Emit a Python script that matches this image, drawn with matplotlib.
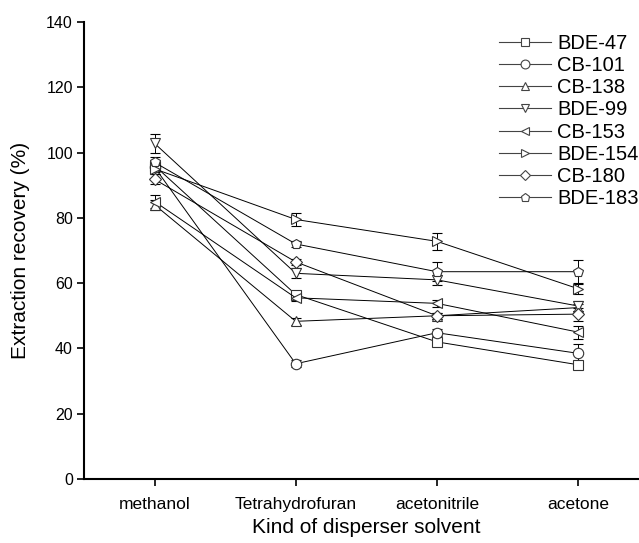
import matplotlib
matplotlib.use("Agg")
import matplotlib.pyplot as plt
from matplotlib.lines import Line2D

plt.rcParams['font.family'] = ['Liberation Sans', 'DejaVu Sans']

categories = ["methanol", "Tetrahydrofuran", "acetonitrile", "acetone"]
series_names = ["BDE-47", "CB-101", "CB-138", "BDE-99", "CB-153", "BDE-154", "CB-180", "BDE-183"]
markers = ["s", "o", "^", "v", "<", ">", "D", "p"]

bde47 = [96.0, 56.5, 42.0, 35.0]
cb101 = [95.5, 35.3, 44.8, 38.5]
cb138 = [84.0, 48.3, 50.0, 52.5]
bde99 = [102.8, 63.0, 61.0, 53.0]
cb153 = [85.0, 55.5, 53.8, 45.0]
bde154 = [95.0, 79.5, 72.8, 58.3]
cb180 = [91.8, 66.5, 50.0, 50.5]
bde183 = [97.0, 72.0, 63.5, 63.5]

err47 = [1.5, 1.0, 1.0, 1.0]
err101 = [1.5, 1.0, 1.0, 3.0]
err138 = [1.5, 1.0, 1.0, 1.0]
err99 = [3.0, 1.5, 1.5, 1.5]
err153 = [2.0, 1.0, 1.0, 2.0]
err154 = [1.5, 2.0, 2.5, 1.5]
err180 = [1.5, 1.0, 1.0, 2.0]
err183 = [1.5, 1.0, 3.0, 3.5]

values = [bde47, cb101, cb138, bde99, cb153, bde154, cb180, bde183]
errors = [err47, err101, err138, err99, err153, err154, err180, err183]

fig = plt.figure(figsize=(6.39, 5.43), dpi=100)
ax = fig.add_axes([0.1315, 0.1179, 0.8835, 0.8416])

x = list(range(1, len(categories) + 1))
handles = []
for name, m, v, e in zip(series_names, markers, values, errors):
    ms = 6.5 if m == "D" else 7.5
    ax.errorbar(x, v, yerr=e, color='black', lw=0.7, marker=m, ms=ms,
                mfc='white', mec='#333333', mew=0.8, capsize=3.5,
                elinewidth=0.7, capthick=0.7)
    handles.append(Line2D([], [], color='#444444', lw=0.8, marker=m,
                          ms=ms * 0.85, mfc='white', mec='#444444', mew=0.8,
                          label=name))

ax.set_xlim(0.5, 4.5)
ax.set_ylim(0, 140)
ax.set_yticks(range(0, 141, 20))
ax.set_xticks(x)
ax.set_xticklabels(categories)
ax.spines['top'].set_visible(False)
ax.spines['right'].set_visible(False)
ax.spines['left'].set_linewidth(1.5)
ax.spines['bottom'].set_linewidth(1.5)
ax.tick_params(direction='out', length=5, width=1.2)
ax.tick_params(axis='y', labelsize=11.5, pad=3)
ax.tick_params(axis='x', labelsize=12.5, pad=8)
ax.set_ylabel("Extraction recovery (%)", fontsize=15, labelpad=12)
ax.set_xlabel("Kind of disperser solvent", fontsize=15, labelpad=4)

leg = ax.legend(handles=handles, loc='upper left', bbox_to_anchor=(0.71, 1.005),
                frameon=False, fontsize=14.5, handlelength=2.6, handletextpad=0.3,
                labelspacing=0.16, borderaxespad=0.3)

fig.savefig("out.png", dpi=100)
